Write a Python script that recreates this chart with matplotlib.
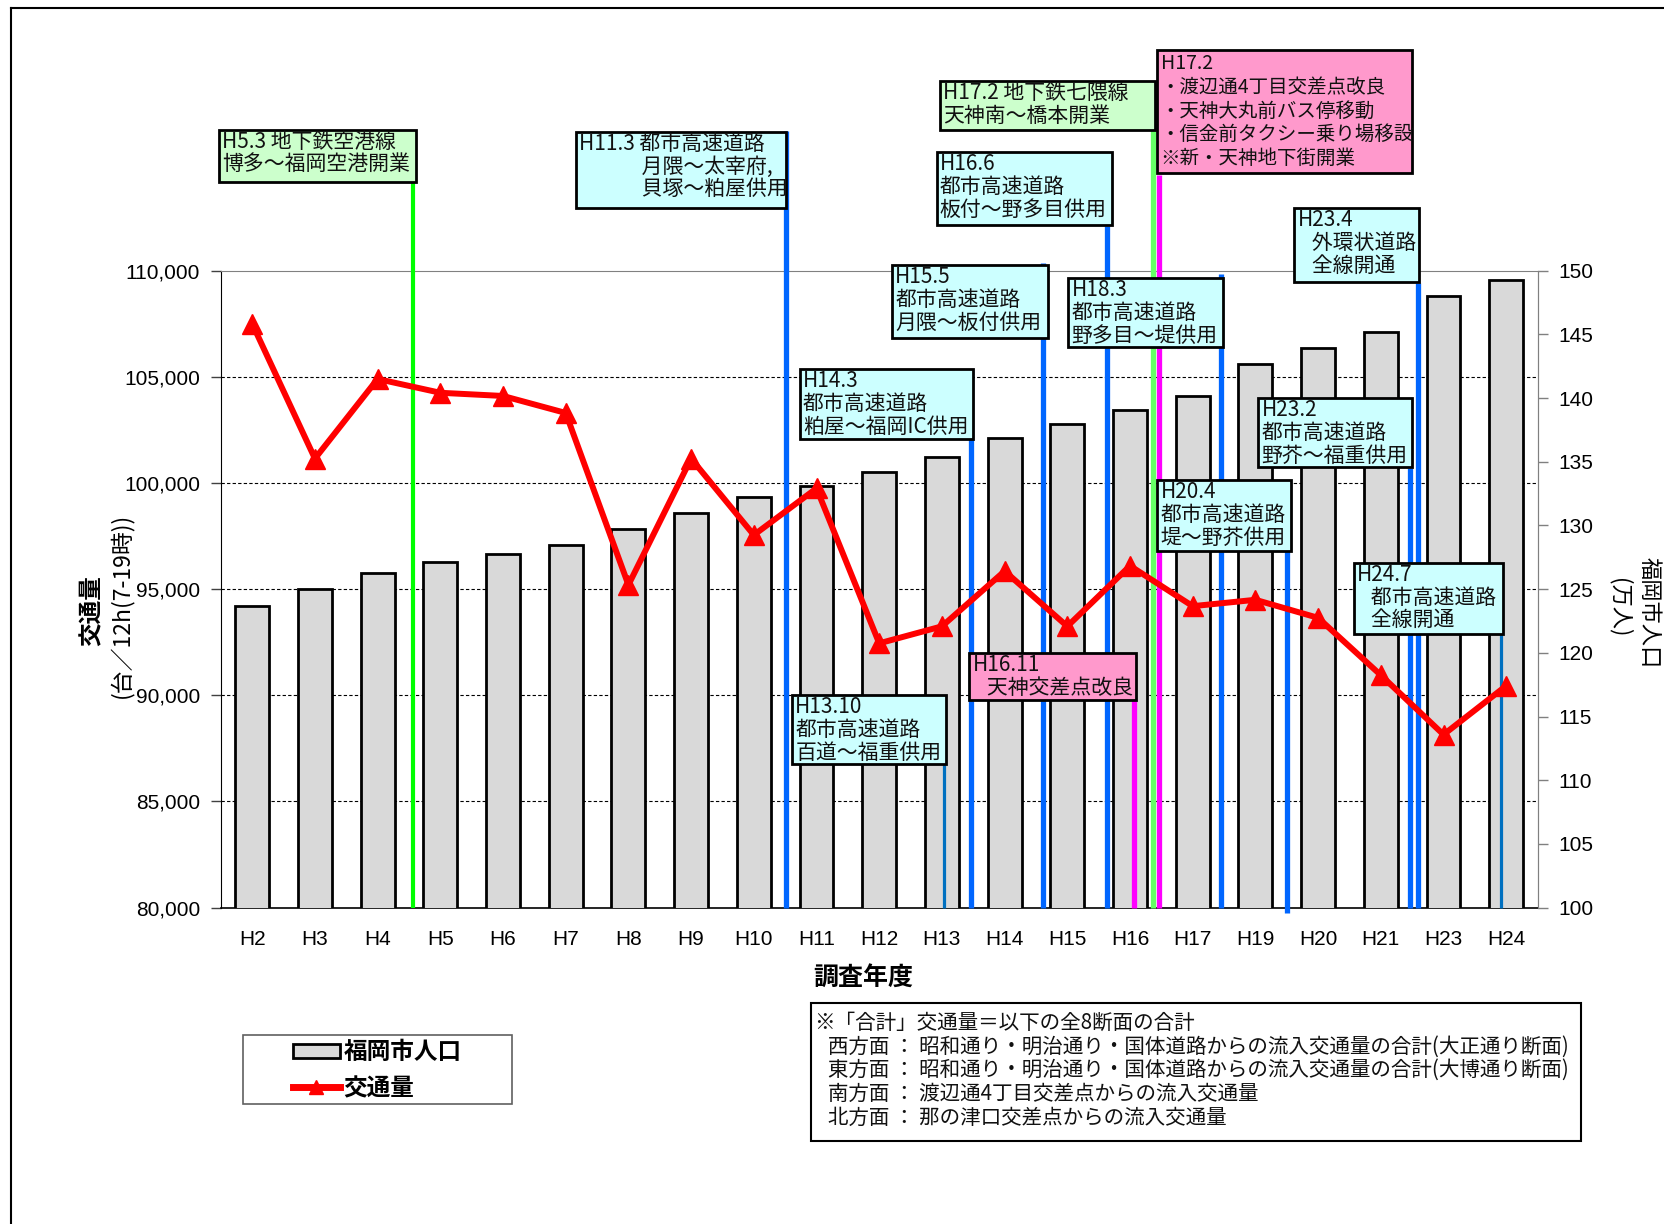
import matplotlib.pyplot as plt
from matplotlib.patches import Rectangle, Patch
from matplotlib.lines import Line2D

plt.rcParams['font.family'] = ['Noto Sans CJK JP', 'DejaVu Sans']

# data
years = ["H2", "H3", "H4", "H5", "H6", "H7", "H8", "H9", "H10", "H11", "H12",
         "H13", "H14", "H15", "H16", "H17", "H19", "H20", "H21", "H23", "H24"]
population = [123.7, 125.0, 126.3, 127.1, 127.8, 128.5, 129.7, 131.0, 132.2, 133.1, 134.2,
              135.4, 136.9, 138.0, 139.1, 140.2, 142.7, 143.9, 145.2, 148.0, 149.3]   # 万人
traffic = [107500, 101150, 104900, 104250, 104100, 103300, 95200, 101150, 97550, 99750, 92450,
           93250, 95850, 93250, 96100, 94200, 94500, 93650, 90950, 88150, 90450]       # 台/12h

left_ticks = list(range(80000, 110001, 5000))
right_ticks = list(range(100, 151, 5))

# events (position on the category axis, between survey years)
event_pos = [2.565, 8.51, 11.03, 11.47, 12.62, 13.64, 14.06, 14.37, 14.47, 15.45, 16.50, 18.47, 18.60, 19.91]
event_colors = ["#00FF00", "#0066FF", "#0070C0", "#0066FF", "#0066FF", "#0066FF", "#FF00FF",
                "#66FF66", "#FF00FF", "#0066FF", "#0066FF", "#0066FF", "#0066FF", "#0070C0"]
event_tops = [1.14, 1.22, 0.33, 0.845, 1.012, 1.07, 0.33, 1.29, 1.15, 0.995, 0.563, 0.69, 0.98, 0.43]
event_widths = [3.0, 3.8, 2.3, 3.8, 3.8, 3.8, 3.8, 3.8, 3.8, 3.8, 3.8, 3.8, 3.8, 2.3]

GREEN = "#CCFFCC"
CYAN = "#CCFFFF"
PINK = "#FF99CC"

# annotation boxes: text, (x0, y0, x1, y1) in reference pixels, colour, font size, line spacing
boxes = [
    ("H5.3 地下鉄空港線\n博多～福岡空港開業", (206, 122, 392, 171), GREEN, 15, 1.05),
    ("H11.3 都市高速道路\n　　　月隈～太宰府,\n　　　貝塚～粕屋供用", (542, 124, 740, 196), CYAN, 15, 1.05),
    ("H17.2 地下鉄七隈線\n天神南～橋本開業", (885, 76, 1088, 122), GREEN, 15, 1.05),
    ("H17.2\n・渡辺通4丁目交差点改良\n・天神大丸前バス停移動\n・信金前タクシー乗り場移設\n※新・天神地下街開業",
     (1090, 47, 1330, 163), PINK, 14, 1.17),
    ("H16.6\n都市高速道路\n板付～野多目供用", (882, 143, 1047, 212), CYAN, 15, 1.05),
    ("H15.5\n都市高速道路\n月隈～板付供用", (840, 250, 987, 318), CYAN, 15, 1.05),
    ("H18.3\n都市高速道路\n野多目～堤供用", (1006, 262, 1152, 327), CYAN, 15, 1.05),
    ("H23.4\n   外環状道路\n   全線開通", (1219, 196, 1336, 266), CYAN, 15, 1.05),
    ("H14.3\n都市高速道路\n粕屋～福岡IC供用", (753, 348, 916, 414), CYAN, 15, 1.05),
    ("H23.2\n都市高速道路\n野芥～福重供用", (1185, 375, 1330, 440), CYAN, 15, 1.05),
    ("H20.4\n都市高速道路\n堤～野芥供用", (1090, 452, 1216, 519), CYAN, 15, 1.05),
    ("H24.7\n   都市高速道路\n   全線開通", (1275, 530, 1415, 597), CYAN, 15, 1.05),
    ("H16.11\n   天神交差点改良", (913, 615, 1070, 659), PINK, 15, 1.05),
    ("H13.10\n都市高速道路\n百道～福重供用", (746, 655, 891, 720), CYAN, 15, 1.05),
]

note = ("※「合計」交通量＝以下の全8断面の合計\n"
        "   西方面 ： 昭和通り・明治通り・国体道路からの流入交通量の合計(大正通り断面)\n"
        "   東方面 ： 昭和通り・明治通り・国体道路からの流入交通量の合計(大博通り断面)\n"
        "   南方面 ： 渡辺通4丁目交差点からの流入交通量\n"
        "   北方面 ： 那の津口交差点からの流入交通量")

# reference layout helpers
W, H = 1568, 1153
AL, AT, AR, AB = 208, 255, 1448, 855


def fx(px):
    return px / W


def fy(py):
    return 1 - py / H


def axx(px):
    return (px - AL) / (AR - AL)


def axy(py):
    return (AB - py) / (AB - AT)


fig = plt.figure(figsize=(16.65, 12.24), dpi=100)
ax = fig.add_axes([fx(AL), fy(AB), fx(AR) - fx(AL), fy(AT) - fy(AB)])
ax2 = ax.twinx()

x = list(range(len(years)))

# left axis (traffic)
ax.set_xlim(-0.5, len(years) - 0.5)
ax.set_ylim(80000, 110000)
ax.set_yticks(left_ticks)
ax.set_yticklabels([f"{v:,}" for v in left_ticks], fontfamily="Liberation Sans", fontsize=15)
ax.set_xticks(x)
ax.set_xticklabels(years, fontfamily="Liberation Sans", fontsize=15)
ax.tick_params(axis="x", length=0, pad=16)
ax.tick_params(axis="y", direction="out", length=7, width=1, color="#404040", pad=8)
ax.grid(axis="y", linestyle=(0, (3, 2)), color="black", linewidth=0.8)
gls = ax.get_ygridlines()
gls[0].set_visible(False)
gls[-1].set_visible(False)
ax.spines["left"].set_color("black")
ax.spines["bottom"].set_color("black")
ax.spines["bottom"].set_linewidth(1.2)
ax.spines["top"].set_color("#808080")
ax.spines["right"].set_color("#808080")

# right axis (population)
ax2.set_ylim(100, 150)
ax2.set_yticks(right_ticks)
ax2.set_yticklabels([str(v) for v in right_ticks], fontfamily="Liberation Sans", fontsize=15)
ax2.tick_params(axis="y", direction="out", length=7, width=1, color="#808080", pad=8)
for s in ["left", "top", "bottom"]:
    ax2.spines[s].set_visible(False)
ax2.spines["right"].set_color("#808080")

ax2.bar(x, population, width=0.54, color="#D9D9D9", edgecolor="black", linewidth=2, zorder=2)

# event lines
for p, c, t, lw in zip(event_pos, event_colors, event_tops, event_widths):
    bottom = -0.008 if p == 16.50 else 0
    ax2.plot([p, p], [bottom, t], color=c, linewidth=lw, transform=ax2.get_xaxis_transform(),
             clip_on=False, zorder=3, solid_capstyle="butt")

# traffic line (drawn in left-axis units)
ax2.plot(x, traffic, color="red", linewidth=4.3, marker="^", markersize=14,
         transform=ax.transData, zorder=4, clip_on=False)

# annotation boxes
for txt, (x0, y0, x1, y1), col, fs, ls in boxes:
    ax2.add_patch(Rectangle((axx(x0), axy(y1)), axx(x1) - axx(x0), axy(y0) - axy(y1),
                            transform=ax2.transAxes, facecolor=col, edgecolor="black",
                            linewidth=2, clip_on=False, zorder=6))
    ty = y0 + 3 if fs == 14 else y0 + 1
    ax2.text(axx(x0 + 3), axy(ty), txt, transform=ax2.transAxes, ha="left", va="top",
             fontsize=fs, linespacing=ls, color="#111111", zorder=7, clip_on=False)

# axis titles
fig.text(fx(813), fy(922), "調査年度", ha="center", va="center", fontsize=18, fontweight="bold")
fig.text(fx(86), fy(575), "交通量", ha="center", va="center", rotation=90, fontsize=17, fontweight="bold")
fig.text(fx(114), fy(570), "(台／12h(7-19時))", ha="center", va="center", rotation=90, fontsize=16.5)
fig.text(fx(1553), fy(577), "福岡市人口", ha="center", va="center", rotation=-90, fontsize=16)
fig.text(fx(1525), fy(572), "(万人)", ha="center", va="center", rotation=-90, fontsize=16)

# legend
fig.add_artist(Rectangle((fx(229), fy(1040)), fx(482) - fx(229), fy(975) - fy(1040),
                         transform=fig.transFigure, facecolor="white", edgecolor="#606060", linewidth=1.2))
handles = [Patch(facecolor="#D9D9D9", edgecolor="black", linewidth=2),
           Line2D([], [], color="red", linewidth=5, marker="^", markersize=10)]
fig.legend(handles, ["福岡市人口", "交通量"], loc="center",
           bbox_to_anchor=(fx(355), fy(1008)), frameon=False,
           prop={"size": 17, "weight": "bold"}, handlelength=2.0, handleheight=0.5,
           labelspacing=0.5, handletextpad=0.15)

# note box
fig.add_artist(Rectangle((fx(764), fy(1075)), fx(1489) - fx(764), fy(945) - fy(1075),
                         transform=fig.transFigure, facecolor="white", edgecolor="black", linewidth=1.5))
fig.text(fx(767), fy(953), note, ha="left", va="top", fontsize=14.8, linespacing=1.1, color="#111111")

# outer frame of the original sheet
fig.add_artist(Line2D([fx(10), fx(10)], [0, fy(8)], transform=fig.transFigure, color="black", linewidth=1.5))
fig.add_artist(Line2D([fx(10), 1], [fy(8), fy(8)], transform=fig.transFigure, color="black", linewidth=1.5))

fig.savefig("out.png", dpi=100)
